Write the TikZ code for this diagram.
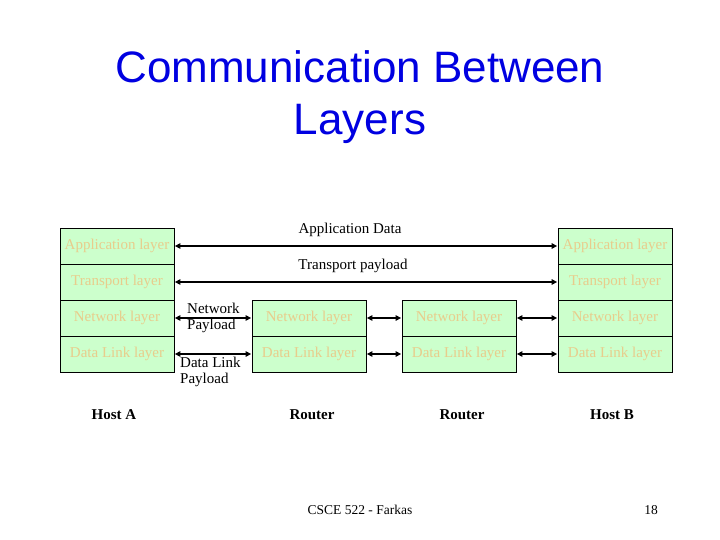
\documentclass[tikz,border=0pt]{standalone}
\usepackage{fontspec}
\setmainfont{Liberation Serif}
\newfontfamily\titlefont{Liberation Sans}
\usetikzlibrary{arrows.meta}
\definecolor{boxfill}{RGB}{204,255,204}
\definecolor{boxtext}{RGB}{232,204,140}
\definecolor{titleblue}{RGB}{0,0,225}
\tikzset{
  layerbox/.style={draw=black, line width=0.8pt, fill=boxfill, minimum width=114pt, minimum height=36pt, inner sep=0pt, text=boxtext, font=\fontsize{15}{17}\selectfont},
  link/.style={line width=2pt, {Triangle[length=5.5pt,width=5.5pt]}-{Triangle[length=5.5pt,width=5.5pt]}, shorten <=0.5pt, shorten >=0.5pt},
  lbl/.style={font=\fontsize{15}{17}\selectfont, inner sep=0pt},
  hostlbl/.style={font=\fontsize{15}{17}\selectfont\bfseries, inner sep=0pt},
  titletxt/.style={font=\titlefont\fontsize{44}{52}\selectfont, align=center, inner sep=0pt}
}
\begin{document}
\begin{tikzpicture}[x=1pt,y=-1pt]
\useasboundingbox (0,0) rectangle (720,540);
% title
\node[titletxt, text=titleblue] (title) at (360,97) {Communication Between\\Layers};
% Host A
\node[layerbox] (a1) at (117,246) {Application layer};
\node[layerbox] (a2) at (117,282) {Transport layer};
\node[layerbox] (a3) at (117,318) {Network layer};
\node[layerbox] (a4) at (117,354) {Data Link layer};
% Router 1
\node[layerbox] (r13) at (309,318) {Network layer};
\node[layerbox] (r14) at (309,354) {Data Link layer};
% Router 2
\node[layerbox] (r23) at (459,318) {Network layer};
\node[layerbox] (r24) at (459,354) {Data Link layer};
% Host B
\node[layerbox] (b1) at (615,246) {Application layer};
\node[layerbox] (b2) at (615,282) {Transport layer};
\node[layerbox] (b3) at (615,318) {Network layer};
\node[layerbox] (b4) at (615,354) {Data Link layer};
% links
\draw[link] (a1.east) -- (b1.west);
\draw[link] (a2.east) -- (b2.west);
\draw[link] (a3.east) -- (r13.west);
\draw[link] (a4.east) -- (r14.west);
\draw[link] (r13.east) -- (r23.west);
\draw[link] (r14.east) -- (r24.west);
\draw[link] (r23.east) -- (b3.west);
\draw[link] (r24.east) -- (b4.west);
% labels
\node[lbl] (appdata) at (350,229.5) {Application Data};
\node[lbl] (trpay) at (353,265.5) {Transport payload};
\node[lbl, anchor=west] (netpay1) at (187,308) {Network};
\node[lbl, anchor=west] (netpay2) at (187,326) {Payload};
\node[lbl, anchor=west] (dlpay1) at (180,362) {Data Link};
\node[lbl, anchor=west] (dlpay2) at (180,380) {Payload};
% host labels
\node[hostlbl] (ha) at (114,415) {Host A};
\node[hostlbl] (ro1) at (312,415) {Router};
\node[hostlbl] (ro2) at (462,415) {Router};
\node[hostlbl] (hb) at (612,415) {Host B};
% footer
\node[lbl, font=\fontsize{13.5}{16}\selectfont] (foot) at (360,510) {CSCE 522 - Farkas};
\node[lbl, font=\fontsize{13.5}{16}\selectfont] (pg) at (651,510) {18};
\end{tikzpicture}
\end{document}
